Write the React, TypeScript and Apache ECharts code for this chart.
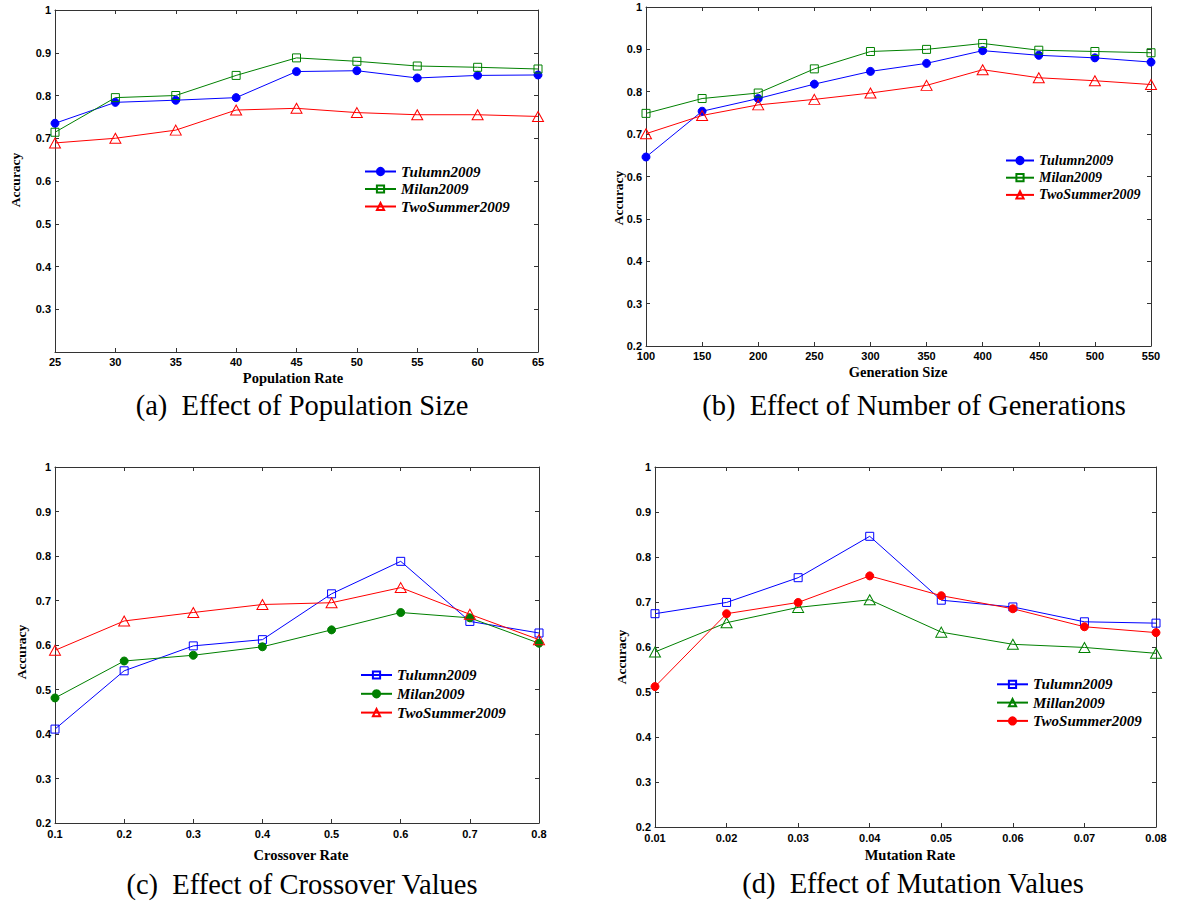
import React, { useEffect, useRef } from "react";
import * as echarts from "echarts";

// ---------- data ----------
const popX = ["25", "30", "35", "40", "45", "50", "55", "60", "65"];
const popTulumn = [0.735, 0.784, 0.789, 0.795, 0.856, 0.858, 0.841, 0.847, 0.848];
const popMilan = [0.714, 0.795, 0.8, 0.847, 0.888, 0.88, 0.869, 0.866, 0.862];
const popTwo = [0.689, 0.7, 0.719, 0.766, 0.77, 0.76, 0.755, 0.755, 0.751];

const genX = ["100", "150", "200", "250", "300", "350", "400", "450", "500", "550"];
const genTulumn = [0.646, 0.754, 0.784, 0.818, 0.848, 0.867, 0.897, 0.886, 0.88, 0.87];
const genMilan = [0.749, 0.784, 0.797, 0.854, 0.895, 0.9, 0.914, 0.898, 0.895, 0.892];
const genTwo = [0.701, 0.744, 0.769, 0.782, 0.797, 0.815, 0.852, 0.833, 0.826, 0.817];

const crossX = ["0.1", "0.2", "0.3", "0.4", "0.5", "0.6", "0.7", "0.8"];
const crossTulumn = [0.411, 0.542, 0.598, 0.612, 0.715, 0.788, 0.653, 0.627];
const crossMilan = [0.481, 0.564, 0.577, 0.596, 0.634, 0.673, 0.661, 0.604];
const crossTwo = [0.588, 0.654, 0.673, 0.691, 0.695, 0.729, 0.669, 0.612];

const mutX = ["0.01", "0.02", "0.03", "0.04", "0.05", "0.06", "0.07", "0.08"];
const mutTulumn = [0.674, 0.699, 0.754, 0.846, 0.704, 0.689, 0.656, 0.653];
const mutMilan = [0.589, 0.654, 0.688, 0.705, 0.633, 0.606, 0.599, 0.586];
const mutTwo = [0.512, 0.674, 0.699, 0.758, 0.714, 0.685, 0.645, 0.632];

const yMin = 0.2;
const yMax = 1;
const yStep = 0.1;

const BLUE = "#0000ff";
const GREEN = "#008000";
const RED = "#ff0000";

type Marker = "dot" | "square" | "triangle";
type SeriesDef = { name: string; data: number[]; color: string; marker: Marker };
type PanelDef = {
  ox: number;
  oy: number;
  cats: string[];
  series: SeriesDef[];
  grid: { l: number; t: number; w: number; h: number };
  legend: { x: number; y: number; gap: number; font: number; iw: number };
  title: { text: string; x: number; y: number };
  xname: { text: string; x: number; y: number };
  yname: { x: number; y: number };
  xMargin: number;
  hideBottomY: boolean;
};

const panels: PanelDef[] = [
  {
    ox: 0, oy: 0, cats: popX,
    series: [
      { name: "Tulumn2009", data: popTulumn, color: BLUE, marker: "dot" },
      { name: "Milan2009", data: popMilan, color: GREEN, marker: "square" },
      { name: "TwoSummer2009", data: popTwo, color: RED, marker: "triangle" },
    ],
    grid: { l: 55, t: 10, w: 483, h: 342 },
    legend: { x: 364, y: 164, gap: 2.5, font: 15, iw: 31 },
    title: { text: "(a)  Effect of Population Size", x: 302, y: 405 },
    xname: { text: "Population Rate", x: 293, y: 378 },
    yname: { x: 15, y: 180 },
    xMargin: 4,
    hideBottomY: true,
  },
  {
    ox: 588, oy: 0, cats: genX,
    series: [
      { name: "Tulumn2009", data: genTulumn, color: BLUE, marker: "dot" },
      { name: "Milan2009", data: genMilan, color: GREEN, marker: "square" },
      { name: "TwoSummer2009", data: genTwo, color: RED, marker: "triangle" },
    ],
    grid: { l: 646, t: 7, w: 505, h: 339 },
    legend: { x: 1005, y: 153.5, gap: 3.2, font: 14, iw: 28 },
    title: { text: "(b)  Effect of Number of Generations", x: 914, y: 405 },
    xname: { text: "Generation Size", x: 898, y: 372 },
    yname: { x: 618, y: 198 },
    xMargin: 4,
    hideBottomY: false,
  },
  {
    ox: 0, oy: 450, cats: crossX,
    series: [
      { name: "Tulumn2009", data: crossTulumn, color: BLUE, marker: "square" },
      { name: "Milan2009", data: crossMilan, color: GREEN, marker: "dot" },
      { name: "TwoSummer2009", data: crossTwo, color: RED, marker: "triangle" },
    ],
    grid: { l: 55, t: 467, w: 484, h: 356 },
    legend: { x: 360, y: 667.5, gap: 3.8, font: 15, iw: 31 },
    title: { text: "(c)  Effect of Crossover Values", x: 302, y: 884 },
    xname: { text: "Crossover Rate", x: 301, y: 855 },
    yname: { x: 21.5, y: 652 },
    xMargin: 5,
    hideBottomY: false,
  },
  {
    ox: 588, oy: 450, cats: mutX,
    series: [
      { name: "Tulumn2009", data: mutTulumn, color: BLUE, marker: "square" },
      { name: "Millan2009", data: mutMilan, color: GREEN, marker: "triangle" },
      { name: "TwoSummer2009", data: mutTwo, color: RED, marker: "dot" },
    ],
    grid: { l: 655, t: 467, w: 501, h: 360 },
    legend: { x: 996, y: 676.8, gap: 3.3, font: 15, iw: 31 },
    title: { text: "(d)  Effect of Mutation Values", x: 913, y: 883 },
    xname: { text: "Mutation Rate", x: 910, y: 855 },
    yname: { x: 621, y: 657 },
    xMargin: 5,
    hideBottomY: false,
  },
];

const PANEL_W = 589;
const PANEL_H = 451;
const AXIS_COLOR = "#333";
const SANS = "'Liberation Sans', Arial, sans-serif";
const SERIF = "'Liberation Serif', 'Times New Roman', serif";

function markerStyle(s: SeriesDef) {
  if (s.marker === "dot") {
    return { symbol: "circle", symbolSize: 8, itemStyle: { color: s.color, borderColor: s.color, borderWidth: 1 } };
  }
  if (s.marker === "square") {
    return { symbol: "rect", symbolSize: 8, itemStyle: { color: "rgba(255,255,255,0)", borderColor: s.color, borderWidth: 1 } };
  }
  return { symbol: "triangle", symbolSize: [11, 10], itemStyle: { color: "rgba(255,255,255,0)", borderColor: s.color, borderWidth: 1 } };
}

function buildOption(p: PanelDef) {
  const g = p.grid;
  const tick = { show: true, inside: true, length: 4, lineStyle: { color: AXIS_COLOR, width: 1 } };
  const line = { show: true, onZero: false, lineStyle: { color: AXIS_COLOR, width: 1 } };
  const yFmt = (v: number) => {
    const r = Math.round(v * 10) / 10;
    if (p.hideBottomY && r === 0.2) return "";
    return r === 1 ? "1" : r.toFixed(1);
  };
  const labelStyle = { fontFamily: SANS, fontWeight: "bold" as const, fontSize: 11, color: "#000" };
  return {
    animation: false,
    backgroundColor: "#fff",
    grid: [{ left: g.l - p.ox, top: g.t - p.oy, width: g.w, height: g.h, containLabel: false }],
    xAxis: [
      {
        type: "category", gridIndex: 0, data: p.cats, boundaryGap: false,
        axisLine: line, axisTick: { ...tick, interval: 0 },
        axisLabel: { ...labelStyle, interval: 0, margin: p.xMargin },
        splitLine: { show: false },
      },
      {
        type: "category", gridIndex: 0, data: p.cats, boundaryGap: false, position: "top",
        axisLine: line, axisTick: { ...tick, interval: 0 },
        axisLabel: { show: false }, splitLine: { show: false },
      },
    ],
    yAxis: [
      {
        type: "value", gridIndex: 0, min: yMin, max: yMax, interval: yStep,
        axisLine: line, axisTick: tick,
        axisLabel: { ...labelStyle, margin: 4, formatter: yFmt },
        splitLine: { show: false },
      },
      {
        type: "value", gridIndex: 0, min: yMin, max: yMax, interval: yStep, position: "right",
        axisLine: line, axisTick: tick, axisLabel: { show: false }, splitLine: { show: false },
      },
    ],
    legend: {
      orient: "vertical",
      left: p.legend.x - p.ox,
      top: p.legend.y - p.oy,
      padding: 0,
      itemGap: p.legend.gap,
      itemWidth: p.legend.iw,
      itemHeight: 9,
      selectedMode: false,
      textStyle: {
        fontFamily: SERIF, fontStyle: "italic", fontWeight: "bold",
        fontSize: p.legend.font, color: "#000", lineHeight: p.legend.font,
      },
      data: p.series.map((s) => s.name),
    },
    series: p.series.map((s) => ({
      type: "line",
      name: s.name,
      xAxisIndex: 0,
      yAxisIndex: 0,
      data: s.data,
      color: s.color,
      lineStyle: { color: s.color, width: 1 },
      ...markerStyle(s),
      emphasis: { disabled: true },
    })),
    graphic: [
      {
        type: "text", x: p.title.x - p.ox, y: p.title.y - p.oy,
        style: { text: p.title.text, align: "center", verticalAlign: "middle", fontFamily: SERIF, fontSize: 28.5, fill: "#000" },
      },
      {
        type: "text", x: p.xname.x - p.ox, y: p.xname.y - p.oy,
        style: { text: p.xname.text, align: "center", verticalAlign: "middle", fontFamily: SERIF, fontWeight: "bold", fontSize: 14.5, fill: "#000" },
      },
      {
        type: "text", x: p.yname.x - p.ox, y: p.yname.y - p.oy, rotation: Math.PI / 2,
        style: { text: "Accuracy", align: "center", verticalAlign: "middle", fontFamily: SERIF, fontWeight: "bold", fontSize: 13.5, fill: "#000" },
      },
    ],
  };
}

export default function App() {
  const refs = [useRef<HTMLDivElement>(null), useRef<HTMLDivElement>(null), useRef<HTMLDivElement>(null), useRef<HTMLDivElement>(null)];
  useEffect(() => {
    const charts = panels.map((p, i) => {
      const el = refs[i].current as HTMLDivElement;
      const c = echarts.init(el, undefined, { renderer: "svg", width: PANEL_W, height: PANEL_H });
      c.setOption(buildOption(p) as any);
      return c;
    });
    return () => charts.forEach((c) => c.dispose());
  }, []);
  return (
    <div style={{ position: "absolute", left: 0, top: 0, width: 1177, height: 901, background: "#fff", overflow: "hidden" }}>
      {panels.map((p, i) => (
        <div
          key={i}
          ref={refs[i]}
          style={{ position: "absolute", left: p.ox, top: p.oy, width: PANEL_W, height: PANEL_H }}
        />
      ))}
    </div>
  );
}
